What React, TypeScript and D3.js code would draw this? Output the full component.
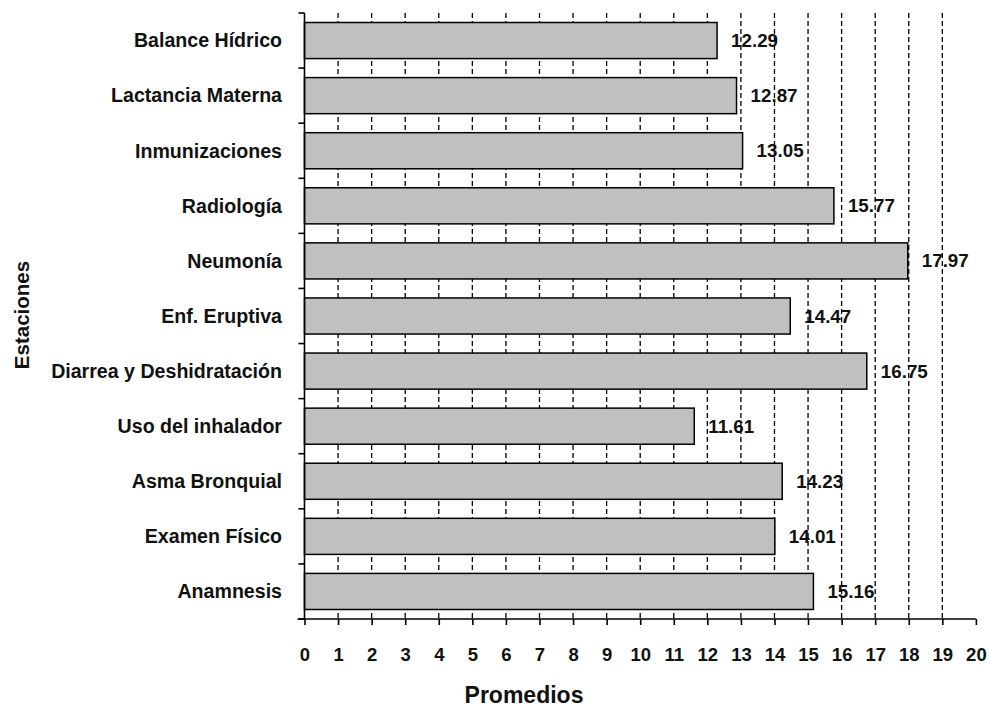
import React, { useEffect, useRef } from "react";
import * as d3 from "d3";

// Average score per station
const categories = [
  "Balance Hídrico",
  "Lactancia Materna",
  "Inmunizaciones",
  "Radiología",
  "Neumonía",
  "Enf. Eruptiva",
  "Diarrea y Deshidratación",
  "Uso del inhalador",
  "Asma Bronquial",
  "Examen Físico",
  "Anamnesis",
];
const values = [12.29, 12.87, 13.05, 15.77, 17.97, 14.47, 16.75, 11.61, 14.23, 14.01, 15.16];
const xTickValues = [0, 1, 2, 3, 4, 5, 6, 7, 8, 9, 10, 11, 12, 13, 14, 15, 16, 17, 18, 19, 20];
const gridValues = [1, 2, 3, 4, 5, 6, 7, 8, 9, 10, 11, 12, 13, 14, 15, 16, 17, 18, 19];
const xTitle = "Promedios";
const yTitle = "Estaciones";

const W = 989;
const H = 708;
const FONT = "Arial, 'Liberation Sans', sans-serif";

export default function App() {
  const ref = useRef<SVGSVGElement | null>(null);

  useEffect(() => {
    const svg = d3.select(ref.current);
    svg.selectAll("*").remove();

    const x = d3.scaleLinear().domain([0, 20]).range([304.5, 975.9]);
    const y = d3
      .scaleBand<string>()
      .domain(categories)
      .range([13, 619])
      .paddingInner(0.345)
      .paddingOuter(0.1725);

    const [top, bottom] = y.range();
    const left = x(0);

    // dashed vertical gridlines
    svg
      .append("g")
      .selectAll("line")
      .data(gridValues)
      .join("line")
      .attr("x1", (d) => x(d))
      .attr("x2", (d) => x(d))
      .attr("y1", top)
      .attr("y2", bottom)
      .attr("stroke", "#000")
      .attr("stroke-width", 1.3)
      .attr("stroke-dasharray", "5,3");

    // bars
    const rows = categories.map((c, i) => ({ c, v: values[i] }));
    svg
      .append("g")
      .selectAll("rect")
      .data(rows)
      .join("rect")
      .attr("x", left)
      .attr("y", (d) => y(d.c)!)
      .attr("width", (d) => x(d.v) - left)
      .attr("height", y.bandwidth())
      .attr("fill", "#c0c0c0")
      .attr("stroke", "#000")
      .attr("stroke-width", 1.5);

    // value labels
    svg
      .append("g")
      .selectAll("text")
      .data(rows)
      .join("text")
      .attr("x", (d) => x(d.v) + 14)
      .attr("y", (d) => y(d.c)! + y.bandwidth() / 2)
      .attr("dy", "0.35em")
      .attr("font-family", FONT)
      .attr("font-weight", "bold")
      .attr("font-size", 18.8)
      .attr("fill", "#111")
      .text((d) => d.v.toFixed(2));

    // y axis: line, boundary ticks, category labels
    const yAxis = svg.append("g");
    yAxis
      .append("line")
      .attr("x1", left)
      .attr("x2", left)
      .attr("y1", top)
      .attr("y2", bottom)
      .attr("stroke", "#000")
      .attr("stroke-width", 1.6);
    const step = y.step();
    yAxis
      .selectAll("line.tick")
      .data(d3.range(categories.length + 1))
      .join("line")
      .attr("class", "tick")
      .attr("x1", left - 6)
      .attr("x2", left)
      .attr("y1", (i) => top + i * step)
      .attr("y2", (i) => top + i * step)
      .attr("stroke", "#000")
      .attr("stroke-width", 1.6);
    yAxis
      .selectAll("text")
      .data(categories)
      .join("text")
      .attr("x", 282)
      .attr("y", (d) => y(d)! + y.bandwidth() / 2)
      .attr("dy", "0.35em")
      .attr("text-anchor", "end")
      .attr("font-family", FONT)
      .attr("font-weight", "bold")
      .attr("font-size", 19.6)
      .attr("fill", "#111")
      .text((d) => d);

    // x axis
    const xAxis = d3
      .axisBottom(x)
      .tickValues(xTickValues)
      .tickSize(6)
      .tickPadding(23)
      .tickFormat((d) => String(d));
    const gx = svg.append("g").attr("transform", `translate(0,${bottom})`).call(xAxis);
    gx.select(".domain").remove();
    gx.append("line")
      .attr("x1", left - 7)
      .attr("x2", x(20))
      .attr("y1", 0)
      .attr("y2", 0)
      .attr("stroke", "#000")
      .attr("stroke-width", 1.6);
    gx.selectAll(".tick line").attr("stroke", "#000").attr("stroke-width", 1.6);
    gx.selectAll(".tick text")
      .attr("font-family", FONT)
      .attr("font-weight", "bold")
      .attr("font-size", 18.5)
      .attr("fill", "#111");

    // axis titles
    svg
      .append("text")
      .attr("x", 524)
      .attr("y", 703)
      .attr("text-anchor", "middle")
      .attr("font-family", FONT)
      .attr("font-weight", "bold")
      .attr("font-size", 23)
      .attr("fill", "#111")
      .text(xTitle);
    svg
      .append("text")
      .attr("transform", `translate(29,315) rotate(-90)`)
      .attr("text-anchor", "middle")
      .attr("font-family", FONT)
      .attr("font-weight", "bold")
      .attr("font-size", 20.5)
      .attr("fill", "#111")
      .text(yTitle);
  }, []);

  return (
    <svg
      ref={ref}
      width={W}
      height={H}
      style={{ position: "absolute", left: 0, top: 0, background: "#fff" }}
    />
  );
}
